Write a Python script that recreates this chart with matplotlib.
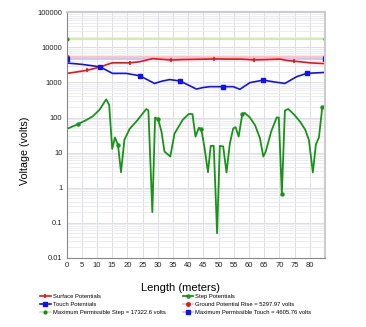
import matplotlib.pyplot as plt
from matplotlib.ticker import FixedLocator, LogLocator, NullFormatter

plt.rcParams['font.family'] = ['Liberation Sans', 'DejaVu Sans']

# surface potentials (red)
surf_x = [0, 3, 6.6, 9, 11.3, 13, 15.1, 18, 20.8, 24, 28.3, 31, 34.3, 38.2, 43.8,
          48.5, 53, 57, 61.7, 66, 70.2, 72.4, 74.9, 80, 85]
surf_y = [1820, 1980, 2220, 2500, 2800, 3200, 3640, 3640, 3640, 3900, 4800, 4600, 4370,
          4500, 4600, 4700, 4650, 4650, 4400, 4500, 4650, 4250, 4070, 3640, 3450]
surf_marks = [2, 8, 12, 15, 18, 22]

# touch potentials (blue)
touch_x = [0, 5, 11, 15.1, 19.6, 24, 27, 28.9, 31.5, 33.9, 37.2, 40, 42.7, 45, 47.1,
           51.5, 54.8, 57, 60.3, 64.7, 68.5, 71.8, 75.7, 79, 85]
touch_y = [3600, 3300, 2800, 1820, 1820, 1560, 1150, 940, 1100, 1210, 1110, 850, 650,
           720, 760, 760, 760, 640, 990, 1170, 1030, 940, 1470, 1820, 1940]
touch_marks = [2, 5, 10, 15, 19, 23]

# step potentials (green)
step_x = [0, 3.8, 6.5, 8.5, 10.8, 13, 14, 15, 15.9, 16.9, 17.9, 19, 20.7, 23.4, 26.2,
          26.9, 28.2, 29.1, 30.1, 31.2, 32.2, 34.1, 35.5, 38.2, 40.2, 41.4, 42.4, 43.5,
          44.3, 45.3, 46.5, 47.4, 48.4, 49.5, 50.4, 51.5, 52.6, 53.7, 54.8, 55.6, 56.6,
          57.8, 58.6, 60.3, 62, 63.6, 64.7, 65.5, 67.3, 69.1, 69.8, 70.8, 71.8, 72.9,
          74.9, 76.8, 78.5, 79.7, 81, 82, 83, 84.1]
step_y = [47, 65, 85, 107, 165, 330, 230, 12.7, 27, 16.6, 2.75, 23, 47, 86, 175,
          160, 0.2, 100, 90, 40, 10.7, 7.7, 35, 86, 127, 125, 28.6, 51,
          46, 15, 2.75, 15.5, 15.5, 0.05, 15.5, 15, 2.7, 18, 49, 53, 28.6,
          127, 135, 100, 60, 25.7, 7.7, 10.7, 40, 100, 100, 0.65, 158, 176,
          120, 76, 45, 23, 2.7, 17, 27, 195]
step_marks = [1, 9, 18, 28, 41, 51, 61]

max_step = 17322.6
gpr = 5297.97
max_touch = 4605.76
x_end = [0, 85]

fig = plt.figure(figsize=(3.66, 3.27), dpi=100)
ax = fig.add_axes([0.182, 0.212, 0.706, 0.750])

ax.plot(x_end, [max_step, max_step], color='#c8ec9a', lw=1.2, marker='o', ms=2,
        mfc='#1a8a1a', mec='#1a8a1a', label='Maximum Permissible Step = 17322.6 volts')
ax.plot(x_end, [gpr, gpr], color='#ffb8b8', lw=1.2, marker='o', ms=2.5,
        mfc='#ee1111', mec='#ee1111', label='Ground Potential Rise = 5297.97 volts')
ax.plot(x_end, [max_touch, max_touch], color='#c0c0ff', lw=1.2, marker='s', ms=2.5,
        mfc='#1111ee', mec='#1111ee', label='Maximum Permissible Touch = 4605.76 volts')

ax.plot(surf_x, surf_y, color='#ee1111', lw=1.2, marker='|', ms=3.5, mew=1.2,
        markevery=surf_marks, label='Surface Potentials')
ax.plot(touch_x, touch_y, color='#1111ee', lw=1.2, marker='s', ms=2.8,
        markevery=touch_marks, label='Touch Potentials')
ax.plot(step_x, step_y, color='#179417', lw=1.3, marker='o', ms=2.2,
        markevery=step_marks, label='Step Potentials')

ax.set_yscale('log')
ax.set_ylim(0.01, 100000)
ax.set_xlim(0, 85)
ax.xaxis.set_major_locator(FixedLocator(range(0, 85, 5)))
yt = [0.01, 0.1, 1, 10, 100, 1000, 10000, 100000]
ax.set_yticks(yt)
ax.set_yticklabels(['0.01', '0.1', '1', '10', '100', '1000', '10000', '100000'])
ax.yaxis.set_minor_locator(LogLocator(base=10, subs=range(2, 10), numticks=20))
ax.yaxis.set_minor_formatter(NullFormatter())
ax.tick_params(axis='both', which='both', labelsize=5.5, length=0, pad=3, colors='#222222')
ax.grid(True, which='major', color='#dcdce6', lw=0.7)
ax.grid(True, which='minor', axis='y', color='#e8e8ee', lw=0.6)
ax.set_axisbelow(True)

for s in ['left', 'bottom']:
    ax.spines[s].set_color('#888888')
    ax.spines[s].set_linewidth(0.8)
for s in ['top', 'right']:
    ax.spines[s].set_color('#cccccc')
    ax.spines[s].set_linewidth(1.5)

ax.set_xlabel('Length (meters)', fontsize=8)
ax.xaxis.set_label_coords(0.44, -0.105)
ax.set_ylabel('Voltage (volts)', fontsize=7.7)
ax.yaxis.set_label_coords(-0.14, 0.435)

h, l = ax.get_legend_handles_labels()
order = [3, 4, 0, 5, 1, 2]
fig.legend([h[i] for i in order], [l[i] for i in order], ncol=2, fontsize=4.2,
           frameon=False, loc='lower left', bbox_to_anchor=(0.095, 0.02),
           handlelength=1.8, columnspacing=2.9, labelspacing=0.55, handletextpad=0.4)

fig.savefig('out.png', dpi=100)
